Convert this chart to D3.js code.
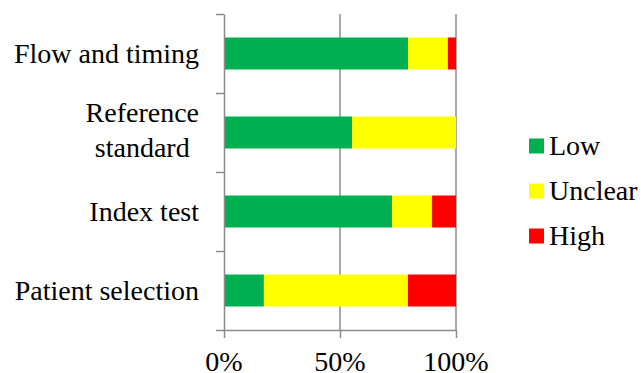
<!doctype html>
<html>
<head>
	<meta charset="UTF-8">
	<style>
		body, svg, svg text {
			font-family: 'Liberation Serif', Tinos, 'Times New Roman', serif;
		}
	</style>
</head>
<body style="margin:0">
	<script src="https://cdn.jsdelivr.net/npm/d3@7"></script>
	<script>
		// categories, top to bottom
		var categories = ['Flow and timing', 'Reference standard', 'Index test', 'Patient selection'];
		// label lines (Reference standard wraps)
		var categoryLines = [['Flow and timing'], ['Reference', 'standard'], ['Index test'], ['Patient selection']];

		// series values in percent, same order as categories
		var lowValues = [79.3, 55.2, 72.4, 17.2];
		var unclearValues = [17.2, 44.8, 17.3, 62.1];
		var highValues = [3.5, 0, 10.3, 20.7];

		var seriesNames = ['Low', 'Unclear', 'High'];
		var seriesColors = ['#00b050', '#ffff00', '#ff0000'];
		var xTicks = [0, 50, 100];

		var fontFamily = "'Liberation Serif', Tinos, 'Times New Roman', serif";

		var w = 641,
			h = 373,
			plotLeft = 224,
			plotTop = 14,
			plotW = 232,
			plotH = 316,
			axisColor = '#8c8c8c';

		var svg = d3.select('body')
			.append('svg')
			.attr('width', w)
			.attr('height', h)
			.attr('font-family', fontFamily);

		var xScale = d3.scaleLinear()
			.domain([0, 100])
			.range([plotLeft, plotLeft + plotW]);

		var yScale = d3.scaleBand()
			.domain(categories)
			.range([plotTop, plotTop + plotH])
			.paddingInner(0.595)
			.paddingOuter(0.2975);

		// rows for the stack, built from the arrays
		var rows = categories.map(function(c, i) {
			return {cat: c, Low: lowValues[i], Unclear: unclearValues[i], High: highValues[i]};
		});
		var stacked = d3.stack().keys(seriesNames)(rows);

		// gridlines
		svg.selectAll('.grid')
			.data(xTicks.filter(function(d) { return d > 0; }))
			.enter()
			.append('line')
			.attr('class', 'grid')
			.attr('x1', function(d) { return xScale(d); })
			.attr('x2', function(d) { return xScale(d); })
			.attr('y1', plotTop)
			.attr('y2', plotTop + plotH)
			.attr('stroke', axisColor)
			.attr('stroke-width', 1.5);

		// bars
		svg.selectAll('.series')
			.data(stacked)
			.enter()
			.append('g')
			.attr('class', 'series')
			.attr('fill', function(d, i) { return seriesColors[i]; })
			.selectAll('rect')
			.data(function(d) { return d; })
			.enter()
			.append('rect')
			.attr('x', function(d) { return xScale(d[0]); })
			.attr('y', function(d) { return yScale(d.data.cat); })
			.attr('width', function(d) { return xScale(d[1]) - xScale(d[0]); })
			.attr('height', yScale.bandwidth());

		// left axis, ticks on band boundaries
		var yEdge = d3.scaleLinear()
			.domain([0, categories.length])
			.range([plotTop, plotTop + plotH]);

		svg.append('g')
			.attr('transform', 'translate(' + plotLeft + ',0)')
			.call(d3.axisLeft(yEdge)
				.tickValues(d3.range(categories.length + 1))
				.tickSize(8)
				.tickSizeOuter(0)
				.tickFormat(''));

		// bottom axis (labels drawn separately below)
		svg.append('g')
			.attr('transform', 'translate(0,' + (plotTop + plotH) + ')')
			.call(d3.axisBottom(xScale)
				.tickValues(xTicks)
				.tickSize(8)
				.tickSizeOuter(0)
				.tickFormat(''));

		svg.selectAll('.domain, .tick line')
			.attr('stroke', axisColor)
			.attr('stroke-width', 1.5);

		/**
		* serif text straight on the svg
		*/
		var addText = function(x, y, str, anchor) {
			return svg.append('text')
				.attr('class', 'lbl')
				.attr('font-family', fontFamily)
				.attr('font-size', 28)
				.style('font-family', fontFamily)
				.style('font-size', '28px')
				.attr('x', x)
				.attr('y', y)
				.attr('text-anchor', anchor)
				.attr('fill', '#000')
				.text(str);
		};

		// x tick labels
		xTicks.forEach(function(t) {
			addText(xScale(t), 371, t + '%', 'middle');
		});

		// category labels
		var lineH = 35;
		var wrapped = [];
		categories.forEach(function(c, i) {
			var lines = categoryLines[i];
			var n = lines.length;
			var cy = yScale(c) + yScale.bandwidth() / 2 + 9;
			if (n === 1) {
				addText(plotLeft - 25, cy, lines[0], 'end');
			} else {
				var made = lines.map(function(l, j) {
					return addText(0, cy - 2 + (j - (n - 1) / 2) * lineH, l, 'middle');
				});
				wrapped.push(made);
			}
		});

		/**
		* center wrapped label lines on their widest line, right-aligned to the axis
		*/
		var placeWrapped = function() {
			wrapped.forEach(function(made) {
				var maxW = d3.max(made, function(t) { return t.node().getComputedTextLength(); });
				made.forEach(function(t) { t.attr('x', plotLeft - 25 - maxW / 2); });
			});
		};
		placeWrapped();

		// legend
		seriesNames.forEach(function(s, i) {
			var ly = 146 + i * 45;
			svg.append('rect')
				.attr('x', 529)
				.attr('y', ly - 7.5)
				.attr('width', 15)
				.attr('height', 15)
				.attr('fill', seriesColors[i]);
			addText(549, ly + 9, s, 'start');
		});

		// re-apply the font once it is surely available
		if (document.fonts && document.fonts.load) {
			document.fonts.load("28px 'Liberation Serif'").then(function() {
				svg.selectAll('.lbl').style('font-family', fontFamily);
				placeWrapped();
			});
		}
	</script>
</body>
</html>
